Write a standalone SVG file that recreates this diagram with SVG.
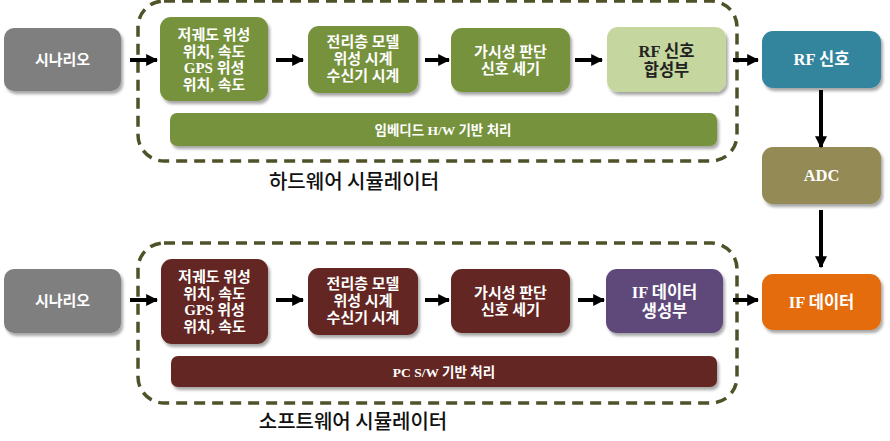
<svg xmlns="http://www.w3.org/2000/svg" width="890" height="441" viewBox="0 0 890 441">
<defs>
<filter id="sh" x="-10%" y="-10%" width="125%" height="130%">
<feGaussianBlur in="SourceAlpha" stdDeviation="1.5"/>
<feOffset dx="2" dy="2.5" result="b"/>
<feComponentTransfer><feFuncA type="linear" slope="0.35"/></feComponentTransfer>
<feMerge><feMergeNode/><feMergeNode in="SourceGraphic"/></feMerge>
</filter>
<marker id="ah" viewBox="0 0 10 10" refX="9" refY="5" markerWidth="3" markerHeight="3.2" orient="auto" markerUnits="strokeWidth">
<path d="M0,0 L10,5 L0,10 z" fill="#000"/>
</marker>
</defs>
<style>
.box{filter:url(#sh)}
.t{font-family:"Liberation Serif","Noto Sans CJK KR",serif;font-weight:bold;font-size:15px;fill:#fff;text-anchor:middle}
.big{font-size:16.5px}
.td{fill:#222}
.lab{font-family:"Noto Sans CJK KR","Noto Sans",sans-serif;font-size:20px;font-weight:500;fill:#111;text-anchor:middle}
.dash{fill:none;stroke:#4f5228;stroke-width:3.5;stroke-dasharray:11 7}
.ar{stroke:#000;stroke-width:4;fill:none;marker-end:url(#ah)}
</style>
<rect width="890" height="441" fill="#fff"/>

<g id="hw-container">
<rect class="dash" x="138" y="1" width="599" height="160" rx="26"/>
<text class="lab" x="354" y="189">하드웨어 시뮬레이터</text>
</g>
<g id="sw-container">
<rect class="dash" x="138" y="243" width="599" height="160" rx="26"/>
<text class="lab" x="353" y="429">소프트웨어 시뮬레이터</text>
</g>

<g id="hw-scenario">
<rect class="box" x="4" y="28" width="117" height="63" rx="10" fill="#7f7f7f"/>
<text class="t" x="62.5" y="65">시나리오</text>
</g>
<g id="hw-orbit">
<rect class="box" x="160" y="17" width="108" height="84" rx="11" fill="#76923c"/>
<text class="t" x="214" y="40">저궤도 위성</text>
<text class="t" x="214" y="57">위치, 속도</text>
<text class="t" x="214" y="73">GPS 위성</text>
<text class="t" x="214" y="90">위치, 속도</text>
</g>
<g id="hw-iono">
<rect class="box" x="308" y="26" width="110" height="67" rx="11" fill="#76923c"/>
<text class="t" x="363" y="47">전리층 모델</text>
<text class="t" x="363" y="64">위성 시계</text>
<text class="t" x="363" y="81">수신기 시계</text>
</g>
<g id="hw-vis">
<rect class="box" x="451" y="28" width="119" height="64" rx="11" fill="#76923c"/>
<text class="t" x="510.5" y="57">가시성 판단</text>
<text class="t" x="510.5" y="74">신호 세기</text>
</g>
<g id="hw-rfsyn">
<rect class="box" x="607" y="27" width="119" height="65" rx="11" fill="#c5d79f"/>
<text class="t td big" x="666.5" y="57">RF  신호</text>
<text class="t td big" x="666.5" y="76">합성부</text>
</g>
<g id="hw-bar">
<rect class="box" x="170" y="113" width="547" height="33" rx="7" fill="#76923c"/>
<text class="t" x="443" y="135" style="font-size:13.5px">임베디드 H/W 기반 처리</text>
</g>

<g id="rf">
<rect class="box" x="762" y="31" width="119" height="57" rx="11" fill="#31859c"/>
<text class="t big" x="821.5" y="65">RF 신호</text>
</g>
<g id="adc">
<rect class="box" x="762" y="147" width="119" height="57" rx="11" fill="#948a54"/>
<text class="t big" x="821.5" y="181">ADC</text>
</g>
<g id="ifdata">
<rect class="box" x="762" y="274" width="119" height="56" rx="11" fill="#e46c0a"/>
<text class="t big" x="821.5" y="308">IF 데이터</text>
</g>

<g id="sw-scenario">
<rect class="box" x="4" y="269" width="117" height="64" rx="10" fill="#7f7f7f"/>
<text class="t" x="62.5" y="306">시나리오</text>
</g>
<g id="sw-orbit">
<rect class="box" x="161" y="259" width="107" height="85" rx="11" fill="#632523"/>
<text class="t" x="214.5" y="282">저궤도 위성</text>
<text class="t" x="214.5" y="299">위치, 속도</text>
<text class="t" x="214.5" y="315">GPS 위성</text>
<text class="t" x="214.5" y="332">위치, 속도</text>
</g>
<g id="sw-iono">
<rect class="box" x="308" y="268" width="110" height="67" rx="11" fill="#632523"/>
<text class="t" x="363" y="289">전리층 모델</text>
<text class="t" x="363" y="306">위성 시계</text>
<text class="t" x="363" y="323">수신기 시계</text>
</g>
<g id="sw-vis">
<rect class="box" x="451" y="269" width="119" height="64" rx="11" fill="#632523"/>
<text class="t" x="510.5" y="298">가시성 판단</text>
<text class="t" x="510.5" y="315">신호 세기</text>
</g>
<g id="sw-ifgen">
<rect class="box" x="606" y="269" width="117" height="64" rx="11" fill="#5f497a"/>
<text class="t big" x="664.5" y="298">IF 데이터</text>
<text class="t big" x="664.5" y="317">생성부</text>
</g>
<g id="sw-bar">
<rect class="box" x="171" y="356" width="546" height="31" rx="7" fill="#632523"/>
<text class="t" x="444" y="377" style="font-size:13.5px">PC S/W 기반 처리</text>
</g>

<g id="connectors">
<line class="ar" x1="130" y1="60" x2="157" y2="60"/>
<line class="ar" x1="276" y1="60" x2="303" y2="60"/>
<line class="ar" x1="425" y1="60" x2="449" y2="60"/>
<line class="ar" x1="575" y1="60" x2="602" y2="60"/>
<line class="ar" x1="733" y1="60" x2="758" y2="60"/>
<line class="ar" x1="821" y1="90" x2="821" y2="147"/>
<line class="ar" x1="821" y1="210" x2="821" y2="267"/>
<line class="ar" x1="130" y1="300" x2="157" y2="300"/>
<line class="ar" x1="276" y1="300" x2="303" y2="300"/>
<line class="ar" x1="425" y1="300" x2="449" y2="300"/>
<line class="ar" x1="578" y1="300" x2="604" y2="300"/>
<line class="ar" x1="733" y1="300" x2="758" y2="300"/>
</g>
</svg>
